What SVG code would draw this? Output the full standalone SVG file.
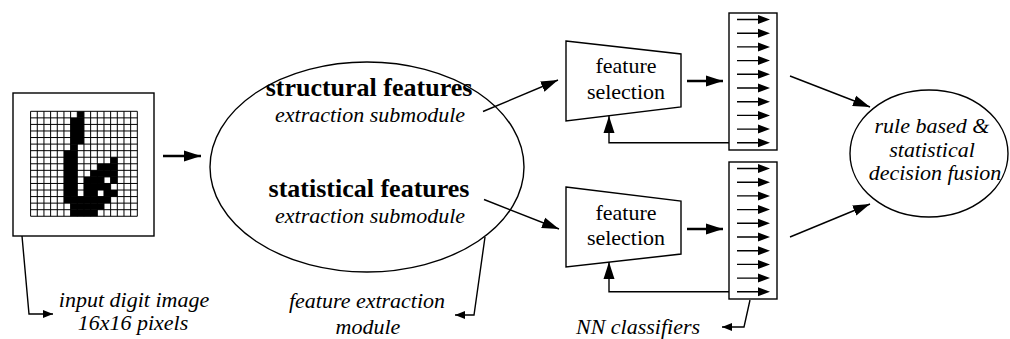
<svg xmlns="http://www.w3.org/2000/svg" width="1010" height="339" viewBox="0 0 1010 339">
<style>
.ln{fill:none;stroke:#000;stroke-width:1.4}
.th{fill:none;stroke:#000;stroke-width:2.4}
.sh{fill:#fff;stroke:#000;stroke-width:1.4}
text{font-family:'Liberation Serif','Times New Roman','DejaVu Serif',serif;text-anchor:middle;fill:#000}
.b{font-weight:bold;font-size:26px}
.i{font-style:italic;font-size:22px}
.r{font-size:22px}
</style>
<defs>
<marker id="big" markerUnits="userSpaceOnUse" markerWidth="18" markerHeight="12" refX="17" refY="6" orient="auto"><path d="M0,0.5 L17,6 L0,11.5 z" fill="#000"/></marker>
<marker id="sm" markerUnits="userSpaceOnUse" markerWidth="11" markerHeight="8" refX="10" refY="4" orient="auto"><path d="M0,0 L10,4 L0,8 z" fill="#000"/></marker>
<g id="arr10">
<path class="ln" d="M737,19.5 H766 M737,33.2 H766 M737,46.9 H766 M737,60.6 H766 M737,74.3 H766 M737,88 H766 M737,101.7 H766 M737,115.4 H766 M737,129.1 H766 M737,142.8 H766"/>
<path fill="#000" d="M758,15 L770,19.5 L758,24z M758,28.7 L770,33.2 L758,37.7z M758,42.4 L770,46.9 L758,51.4z M758,56.1 L770,60.6 L758,65.1z M758,69.8 L770,74.3 L758,78.8z M758,83.5 L770,88 L758,92.5z M758,97.2 L770,101.7 L758,106.2z M758,110.9 L770,115.4 L758,119.9z M758,124.6 L770,129.1 L758,133.6z M758,138.3 L770,142.8 L758,147.3z"/>
</g>
</defs>

<g id="input-image">
<rect class="sh" x="13" y="93" width="141" height="143"/>
<g transform="translate(30.6,111.3) scale(6.67,6.56)">
<rect x="0" y="0" width="16" height="16" fill="#fff"/>
<g fill="#000">
<rect x="7" y="0" width="1" height="1"/>
<rect x="6" y="1" width="2" height="4"/>
<rect x="6" y="5" width="1" height="1"/>
<rect x="5" y="6" width="2" height="7"/>
<rect x="12" y="7" width="1" height="1"/>
<rect x="10" y="8" width="3" height="1"/>
<rect x="9" y="9" width="4" height="1"/>
<rect x="8" y="10" width="3" height="1"/>
<rect x="12" y="10" width="1" height="1"/>
<rect x="8" y="11" width="4" height="1"/>
<rect x="8" y="12" width="2" height="1"/>
<rect x="11" y="12" width="2" height="1"/>
<rect x="5" y="13" width="7" height="1"/>
<rect x="6" y="14" width="5" height="1"/>
<rect x="6" y="15" width="4" height="1"/>
</g>
<path fill="none" stroke="#000" stroke-width="1" vector-effect="non-scaling-stroke" d="M0,0V16M1,0V16M2,0V16M3,0V16M4,0V16M5,0V16M6,0V16M7,0V16M8,0V16M9,0V16M10,0V16M11,0V16M12,0V16M13,0V16M14,0V16M15,0V16M16,0V16M0,0H16M0,1H16M0,2H16M0,3H16M0,4H16M0,5H16M0,6H16M0,7H16M0,8H16M0,9H16M0,10H16M0,11H16M0,12H16M0,13H16M0,14H16M0,15H16M0,16H16"/>
</g>
</g>

<g id="extraction-module">
<ellipse class="sh" cx="367" cy="167" rx="157" ry="105"/>
<text class="b" x="369" y="96" font-family="Liberation Serif, Times New Roman, serif">structural features</text>
<text class="i" x="370" y="122" font-family="Liberation Serif, Times New Roman, serif">extraction submodule</text>
<text class="b" x="369" y="197" font-family="Liberation Serif, Times New Roman, serif">statistical features</text>
<text class="i" x="370" y="223" font-family="Liberation Serif, Times New Roman, serif">extraction submodule</text>
</g>

<g id="feature-selection-1">
<polygon class="sh" points="566,41 681,54 681,107 566,121"/>
<text class="r" x="626" y="73" font-family="Liberation Serif, Times New Roman, serif">feature</text>
<text class="r" x="626" y="99" font-family="Liberation Serif, Times New Roman, serif">selection</text>
</g>
<g id="feature-selection-2">
<polygon class="sh" points="566,187 681,201 681,254 566,267"/>
<text class="r" x="626" y="220" font-family="Liberation Serif, Times New Roman, serif">feature</text>
<text class="r" x="626" y="245" font-family="Liberation Serif, Times New Roman, serif">selection</text>
</g>

<g id="classifier-1">
<rect class="sh" x="729" y="13" width="48" height="137"/>
<use href="#arr10"/>
</g>
<g id="classifier-2">
<rect class="sh" x="729" y="162" width="48" height="137"/>
<use href="#arr10" transform="translate(0,149)"/>
</g>

<g id="decision-fusion">
<ellipse class="sh" cx="929" cy="153.5" rx="79" ry="63.5"/>
<text class="i" x="932" y="133" font-family="Liberation Serif, Times New Roman, serif">rule based &amp;</text>
<text class="i" x="932" y="157" font-family="Liberation Serif, Times New Roman, serif">statistical</text>
<text class="i" x="935" y="180" font-family="Liberation Serif, Times New Roman, serif">decision fusion</text>
</g>

<g id="connectors">
<path class="th" d="M163,156 H201" marker-end="url(#big)"/>
<path class="ln" d="M483,111.5 L558,80" marker-end="url(#big)"/>
<path class="ln" d="M484,199.5 L559,229" marker-end="url(#big)"/>
<path class="th" d="M687,81 H723" marker-end="url(#big)"/>
<path class="th" d="M687,229 H723" marker-end="url(#big)"/>
<path class="ln" d="M729,142.8 H609 V116" marker-end="url(#big)"/>
<path class="ln" d="M729,291.8 H609 V262" marker-end="url(#big)"/>
<path class="ln" d="M790,76 L870,107" marker-end="url(#big)"/>
<path class="ln" d="M790,237 L870,204" marker-end="url(#big)"/>
<path class="ln" d="M22,236 L29,314 H53" marker-end="url(#sm)"/>
<path class="ln" d="M485,237 L474,315 H455" marker-end="url(#sm)"/>
<path class="ln" d="M750,300 L744,327 H722" marker-end="url(#sm)"/>
</g>

<g id="labels">
<text class="i" x="134" y="307" font-family="Liberation Serif, Times New Roman, serif">input digit image</text>
<text class="i" x="133" y="330" font-family="Liberation Serif, Times New Roman, serif">16x16 pixels</text>
<text class="i" x="367" y="308" font-family="Liberation Serif, Times New Roman, serif">feature extraction</text>
<text class="i" x="368" y="334" font-family="Liberation Serif, Times New Roman, serif">module</text>
<text class="i" x="638" y="334" font-family="Liberation Serif, Times New Roman, serif">NN classifiers</text>
</g>
</svg>
